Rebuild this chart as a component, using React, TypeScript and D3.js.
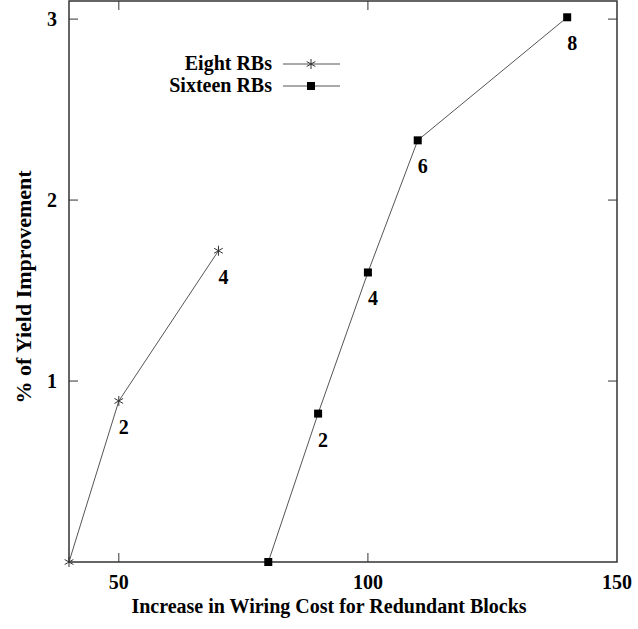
import { useRef, useEffect } from 'react'
import * as d3 from 'd3'

const WIDTH = 638
const HEIGHT = 629
const MARGIN = { top: 1, right: 21, bottom: 67, left: 69 }

const X_TICKS = [50, 100, 150]
const Y_TICKS = [1, 2, 3]

const EIGHT_X = [40, 50, 70]
const EIGHT_Y = [0, 0.89, 1.72]
const EIGHT_LABELS = ['', '2', '4']

const SIXTEEN_X = [80, 90, 100, 110, 140]
const SIXTEEN_Y = [0, 0.82, 1.6, 2.33, 3.01]
const SIXTEEN_LABELS = ['', '2', '4', '6', '8']

const SERIES_NAMES = ['Eight RBs', 'Sixteen RBs']

const FONT = '"Liberation Serif", "Times New Roman", serif'

export default function App() {
  const svgRef = useRef<SVGSVGElement>(null)

  useEffect(() => {
    if (!svgRef.current) return
    const iw = WIDTH - MARGIN.left - MARGIN.right
    const ih = HEIGHT - MARGIN.top - MARGIN.bottom
    const x = d3.scaleLinear().domain([40, 150]).range([MARGIN.left, MARGIN.left + iw])
    const y = d3.scaleLinear().domain([0, 3.1]).range([MARGIN.top + ih, MARGIN.top])

    const svg = d3.select(svgRef.current)
    svg.selectAll('*').remove()

    const frameColor = '#333'
    const lineColor = '#555'

    // frame
    svg.append('rect')
      .attr('x', x(40)).attr('y', y(3.1))
      .attr('width', iw).attr('height', ih)
      .attr('fill', 'none').attr('stroke', frameColor).attr('stroke-width', 1.5)

    const tickLen = 9
    // x ticks (bottom and top, inward)
    X_TICKS.forEach(t => {
      if (t < 150) {
        svg.append('line').attr('x1', x(t)).attr('x2', x(t))
          .attr('y1', y(0)).attr('y2', y(0) - tickLen).attr('stroke', frameColor)
        svg.append('line').attr('x1', x(t)).attr('x2', x(t))
          .attr('y1', y(3.1)).attr('y2', y(3.1) + tickLen).attr('stroke', frameColor)
      }
      svg.append('text').attr('x', x(t)).attr('y', y(0) + 27)
        .attr('text-anchor', 'middle').attr('font-family', FONT)
        .attr('font-weight', 'bold').attr('font-size', 20).text(t)
    })
    // y ticks (left and right, inward)
    Y_TICKS.forEach(t => {
      svg.append('line').attr('x1', x(40)).attr('x2', x(40) + tickLen)
        .attr('y1', y(t)).attr('y2', y(t)).attr('stroke', frameColor)
      svg.append('line').attr('x1', x(150)).attr('x2', x(150) - tickLen)
        .attr('y1', y(t)).attr('y2', y(t)).attr('stroke', frameColor)
      svg.append('text').attr('x', x(40) - 12).attr('y', y(t) + 7)
        .attr('text-anchor', 'end').attr('font-family', FONT)
        .attr('font-weight', 'bold').attr('font-size', 20).text(t)
    })

    // axis titles
    svg.append('text').attr('x', 329).attr('y', 613)
      .attr('text-anchor', 'middle').attr('font-family', FONT)
      .attr('font-weight', 'bold').attr('font-size', 20)
      .text('Increase in Wiring Cost for Redundant Blocks')
    svg.append('text')
      .attr('transform', `translate(31,${287}) rotate(-90)`)
      .attr('text-anchor', 'middle').attr('font-family', FONT)
      .attr('font-weight', 'bold').attr('font-size', 22)
      .text('% of Yield Improvement')

    const line = d3.line<[number, number]>().x(d => x(d[0])).y(d => y(d[1]))

    const star = (g: d3.Selection<SVGGElement, unknown, null, undefined>, cx: number, cy: number) => {
      const r = 5
      const s = g.append('g').attr('stroke', '#333').attr('stroke-width', 1)
      s.append('line').attr('x1', cx).attr('x2', cx).attr('y1', cy - r).attr('y2', cy + r)
      s.append('line').attr('x1', cx - r * 0.87).attr('x2', cx + r * 0.87).attr('y1', cy - r * 0.5).attr('y2', cy + r * 0.5)
      s.append('line').attr('x1', cx - r * 0.87).attr('x2', cx + r * 0.87).attr('y1', cy + r * 0.5).attr('y2', cy - r * 0.5)
    }
    const square = (g: d3.Selection<SVGGElement, unknown, null, undefined>, cx: number, cy: number) => {
      g.append('rect').attr('x', cx - 4).attr('y', cy - 4).attr('width', 8).attr('height', 8).attr('fill', '#000')
    }

    const series = [
      { xs: EIGHT_X, ys: EIGHT_Y, labels: EIGHT_LABELS, marker: star },
      { xs: SIXTEEN_X, ys: SIXTEEN_Y, labels: SIXTEEN_LABELS, marker: square },
    ]

    const g = svg.append('g')
    series.forEach(s => {
      const pts: [number, number][] = s.xs.map((v, i) => [v, s.ys[i]])
      g.append('path').attr('d', line(pts)).attr('fill', 'none')
        .attr('stroke', lineColor).attr('stroke-width', 1)
      pts.forEach((p, i) => {
        s.marker(g, x(p[0]), y(p[1]))
        if (s.labels[i]) {
          g.append('text').attr('x', x(p[0]) + 5).attr('y', y(p[1]) + 33)
            .attr('text-anchor', 'middle').attr('font-family', FONT)
            .attr('font-weight', 'bold').attr('font-size', 20).text(s.labels[i])
        }
      })
    })

    // legend
    const leg = svg.append('g')
    SERIES_NAMES.forEach((name, i) => {
      const ly = 64 + i * 22
      leg.append('text').attr('x', 272).attr('y', ly + 6)
        .attr('text-anchor', 'end').attr('font-family', FONT)
        .attr('font-weight', 'bold').attr('font-size', 20).text(name)
      leg.append('line').attr('x1', 283).attr('x2', 340).attr('y1', ly).attr('y2', ly)
        .attr('stroke', lineColor).attr('stroke-width', 1)
      series[i].marker(leg, 311, ly)
    })
  }, [])

  return (
    <div style={{ position: 'absolute', left: 0, top: 0 }}>
      <svg ref={svgRef} width={WIDTH} height={HEIGHT} style={{ display: 'block', background: '#fff' }} />
    </div>
  )
}
